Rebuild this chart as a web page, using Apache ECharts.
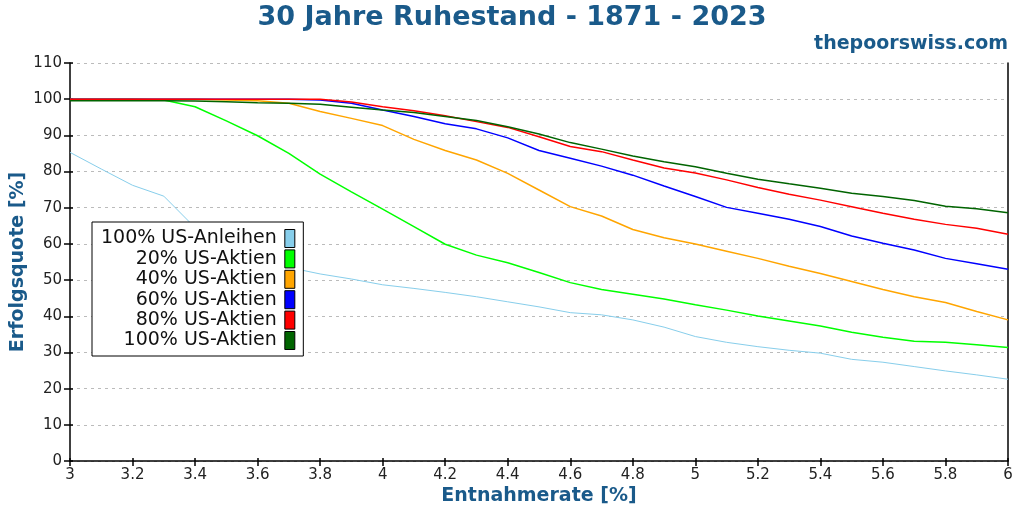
<!DOCTYPE html>
<html>
<head>
<meta charset="utf-8">
<script src="https://cdn.jsdelivr.net/npm/echarts@6/dist/echarts.min.js"></script>
<style>
    html, body { margin: 0; padding: 0; background: #fff; }
    #chart { width: 1024px; height: 512px; }
</style>
</head>
<body>
<div id="chart"></div>
<script>
// Entnahmerate in %
const rates = [3.0, 3.1, 3.2, 3.3, 3.4, 3.5, 3.6, 3.7, 3.8, 3.9,
    4.0, 4.1, 4.2, 4.3, 4.4, 4.5, 4.6, 4.7, 4.8, 4.9,
    5.0, 5.1, 5.2, 5.3, 5.4, 5.5, 5.6, 5.7, 5.8, 5.9, 6.0];

// Erfolgsquote in % je Portfolio
const bonds100 = [85.3, 80.7, 76.2, 73.2, 64.5, 59.5, 56.0, 53.5, 51.7, 50.3,
    48.7, 47.7, 46.6, 45.4, 44.0, 42.6, 41.0, 40.4, 39.0, 37.0,
    34.4, 32.8, 31.6, 30.6, 29.8, 28.1, 27.3, 26.1, 24.9, 23.8, 22.6];
const stocks20 = [100, 100, 100, 99.8, 97.9, 94.0, 89.9, 85.0, 79.3, 74.4,
    69.6, 64.8, 59.9, 56.9, 54.8, 52.1, 49.3, 47.4, 46.1, 44.8,
    43.2, 41.7, 40.1, 38.7, 37.3, 35.6, 34.2, 33.1, 32.8, 32.1, 31.4];
const stocks40 = [100, 100, 100, 100, 100, 99.8, 99.6, 98.9, 96.6, 94.7,
    92.7, 88.9, 85.8, 83.2, 79.5, 74.9, 70.3, 67.7, 64.0, 61.7,
    60.0, 58.0, 56.0, 53.8, 51.8, 49.6, 47.4, 45.4, 43.8, 41.3, 39.0];
const stocks60 = [100, 100, 100, 100, 100, 100, 100, 100, 99.8, 98.9,
    97.0, 95.2, 93.2, 91.8, 89.3, 85.8, 83.7, 81.5, 79.0, 76.0,
    73.1, 70.1, 68.5, 66.8, 64.8, 62.2, 60.2, 58.3, 56.0, 54.5, 53.0];
const stocks80 = [100, 100, 100, 100, 100, 100, 100, 100, 100, 99.2,
    97.9, 96.8, 95.4, 93.8, 92.2, 89.6, 86.9, 85.5, 83.2, 81.0,
    79.6, 77.7, 75.6, 73.7, 72.1, 70.3, 68.5, 66.8, 65.4, 64.3, 62.7];
const stocks100 = [99.6, 99.6, 99.6, 99.6, 99.5, 99.3, 99.0, 98.9, 98.6, 97.8,
    97.0, 96.3, 95.2, 94.1, 92.4, 90.4, 88.0, 86.2, 84.3, 82.7,
    81.3, 79.5, 77.9, 76.6, 75.4, 74.0, 73.1, 72.0, 70.4, 69.7, 68.6];

const seriesNames = ['100% US-Anleihen', '20% US-Aktien', '40% US-Aktien',
    '60% US-Aktien', '80% US-Aktien', '100% US-Aktien'];
const seriesColors = ['#87CEEB', '#00FF00', '#FFA500', '#0000FF', '#FF0000', '#006400'];
const seriesValues = [bonds100, stocks20, stocks40, stocks60, stocks80, stocks100];

const blue = '#1a5a8a';
const font = 'DejaVu Sans';

function pairs(values) {
    return rates.map(function (r, i) { return [r, values[i]]; });
}

var myChart = echarts.init(document.getElementById('chart'), null, { renderer: 'canvas' });

var option = {
    animation: false,
    backgroundColor: '#fff',
    title: [
        {
            text: '30 Jahre Ruhestand - 1871 - 2023',
            left: 'center',
            top: -1,
            textStyle: { fontFamily: font, fontSize: 27, fontWeight: 'bold', color: blue }
        },
        {
            text: 'thepoorswiss.com',
            right: 11,
            top: 30,
            textStyle: { fontFamily: font, fontSize: 19, fontWeight: 'bold', color: blue }
        }
    ],
    legend: {
        orient: 'vertical',
        left: 92,
        top: 222,
        align: 'right',
        icon: 'rect',
        itemWidth: 10,
        itemHeight: 18,
        itemGap: 1.4,
        padding: [7, 8, 6, 9],
        borderColor: '#000',
        borderWidth: 1,
        backgroundColor: '#fff',
        itemStyle: { borderColor: '#000', borderWidth: 1 },
        textStyle: { fontFamily: font, fontSize: 19, lineHeight: 18, color: '#111', padding: [0, 3, 0, 0] },
        data: seriesNames
    },
    grid: { left: 70, right: 16, top: 63, bottom: 51, containLabel: false, outerBoundsMode: 'none' },
    xAxis: [
        {
            type: 'value',
            min: 3,
            max: 6,
            interval: 0.2,
            name: 'Entnahmerate [%]',
            nameLocation: 'middle',
            nameGap: 26,
            nameMoveOverlap: false,
            nameTextStyle: { fontFamily: font, fontSize: 19, fontWeight: 'bold', color: blue },
            axisLine: { show: true, onZero: false, lineStyle: { color: '#000', width: 1.5 } },
            axisTick: { show: true, length: 5, lineStyle: { color: '#000', width: 1.5 } },
            axisLabel: { fontFamily: font, fontSize: 15, color: '#222', margin: 7 },
            splitLine: { show: false }
        },
        {
            type: 'value',
            min: 3,
            max: 6,
            interval: 0.2,
            position: 'bottom',
            axisLine: { show: false },
            axisTick: { show: true, inside: true, length: 3, lineStyle: { color: '#000', width: 1.5 } },
            axisLabel: { show: false },
            splitLine: { show: false }
        }
    ],
    yAxis: [
        {
            type: 'value',
            min: 0,
            max: 110,
            interval: 10,
            name: 'Erfolgsquote [%]',
            nameLocation: 'middle',
            nameGap: 42,
            nameMoveOverlap: false,
            nameTextStyle: { fontFamily: font, fontSize: 19, fontWeight: 'bold', color: blue },
            axisLine: { show: true, lineStyle: { color: '#000', width: 1.5 } },
            axisTick: { show: true, length: 6, lineStyle: { color: '#000', width: 1.5 } },
            axisLabel: { fontFamily: font, fontSize: 15, color: '#222', margin: 8 },
            splitLine: { show: true, lineStyle: { color: '#bbb', type: [3, 4], width: 1 } }
        },
        {
            type: 'value',
            min: 0,
            max: 110,
            interval: 10,
            position: 'left',
            axisLine: { show: false },
            axisTick: { show: true, inside: true, length: 3, lineStyle: { color: '#000', width: 1.5 } },
            axisLabel: { show: false },
            splitLine: { show: false }
        },
        {
            type: 'value',
            min: 0,
            max: 110,
            interval: 10,
            position: 'right',
            axisLine: { show: true, lineStyle: { color: '#000', width: 1.5 } },
            axisTick: { show: false },
            axisLabel: { show: false },
            splitLine: { show: false }
        }
    ],
    series: seriesNames.map(function (name, i) {
        return {
            name: name,
            type: 'line',
            showSymbol: false,
            symbol: 'none',
            color: seriesColors[i],
            lineStyle: { width: i === 0 ? 1 : 1.5, color: seriesColors[i] },
            itemStyle: { color: seriesColors[i] },
            data: pairs(seriesValues[i])
        };
    })
};

myChart.setOption(option);
</script>
</body>
</html>
